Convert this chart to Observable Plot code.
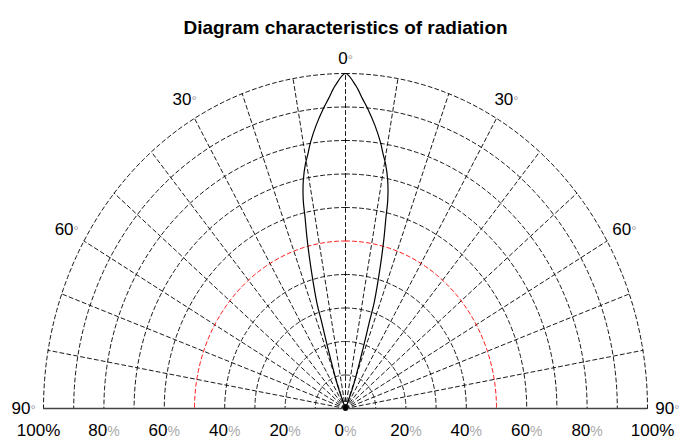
<!DOCTYPE html>
<html><head><meta charset="utf-8">
<script src="https://cdn.jsdelivr.net/npm/d3@7"></script>
<script src="https://cdn.jsdelivr.net/npm/@observablehq/plot@0.6"></script>
<style>body{margin:0;background:#fff;font-family:"Liberation Sans",Arial,sans-serif}</style>
</head><body><div id="chart"></div>
<script>
const title = "Diagram characteristics of radiation";
// radiation pattern: angle (deg) -> relative intensity (%)
const angles =    [0,   2.0,  3.5,  4.7,  6.6,  8.3,  9.3,  10.3, 11.6, 12.7, 13.2, 14.1, 15.3, 16.7, 17.0, 18.2, 21,  22];
const intensity = [100, 96.5, 92.6, 89.8, 85.0, 80.3, 77.0, 74.2, 69.5, 63.6, 58.7, 52.2, 43.2, 33.1, 27.4, 17.2, 6.9, 0];
// grid
const ringValues = [10, 20, 30, 40, 50, 60, 70, 80, 90, 100];
const spokeAngles = [-80, -70, -60, -50, -40, -30, -20, -10, 0, 10, 20, 30, 40, 50, 60, 70, 80];
const angleTicks = [-90, -60, -30, 0, 30, 60, 90];
const angleLabels = ["90°", "60°", "30°", "0°", "30°", "60°", "90°"];
const pctTicks = [-100, -80, -60, -40, -20, 0, 20, 40, 60, 80, 100];
const pctLabels = ["100%", "80%", "60%", "40%", "20%", "0%", "20%", "40%", "60%", "80%", "100%"];

const rad = d => d * Math.PI / 180;
const toXY = (a, r) => ({x: r * Math.sin(rad(a)), y: r * Math.cos(rad(a))});

// curve (symmetric lobe)
const curve = [];
for (let i = angles.length - 1; i > 0; i--) curve.push(toXY(-angles[i], intensity[i]));
for (let i = 0; i < angles.length; i++) curve.push(toXY(angles[i], intensity[i]));

// rings: two halves starting at the top so dashes begin on the 0° axis
const rings = [];
for (const r of ringValues) {
  for (const side of [-1, 1]) {
    for (let a = 0; a <= 90; a += 1) rings.push({...toXY(side * a, r), key: r + "_" + side, r});
  }
}
const spokes = [];
for (const a of spokeAngles) {
  spokes.push({...toXY(a, 0), a});
  spokes.push({...toXY(a, 100), a});
}
const angLab = angleTicks.map((a, i) => ({...toXY(a, a === 0 ? 104.6 : 106.6), text: angleLabels[i]}));
const pctLab = pctTicks.map((v, i) => ({x: v, y: 0, text: pctLabels[i]}));

const dash = "4,3";
const plot = Plot.plot({
  width: 685, height: 439,
  marginLeft: 43, marginRight: 38, marginTop: 73, marginBottom: 31,
  x: {domain: [-100, 100], axis: null},
  y: {domain: [0, 100], axis: null},
  style: {fontFamily: '"Liberation Sans", Arial, sans-serif', background: "#fff", overflow: "visible"},
  marks: [
    Plot.line(rings.filter(d => d.r !== 50), {x: "x", y: "y", z: "key", stroke: "#000", strokeWidth: 0.9, strokeDasharray: dash}),
    Plot.line(spokes, {x: "x", y: "y", z: "a", stroke: "#000", strokeWidth: 0.9, strokeDasharray: dash}),
    Plot.line(rings.filter(d => d.r === 50), {x: "x", y: "y", z: "key", stroke: "#ff0000", strokeWidth: 0.9, strokeDasharray: dash}),
    Plot.ruleY([0], {x1: -100, x2: 100, stroke: "#444", strokeWidth: 1.3}),
    Plot.line(curve, {x: "x", y: "y", stroke: "#000", strokeWidth: 1.2, curve: "catmull-rom"}),
    Plot.dot([{x: 0, y: 0}], {x: "x", y: "y", r: 2.5, fill: "#000"}),
    Plot.text(angLab, {x: "x", y: "y", text: "text", fontSize: 17, fill: "#000"}),
    Plot.text(pctLab.filter(d => Math.abs(d.x) < 100), {x: "x", y: "y", text: "text", dy: 22, fontSize: 17, fill: "#000"}),
    Plot.text(pctLab.filter(d => d.x === -100), {x: "x", y: "y", text: "text", dy: 22, dx: -5, fontSize: 17, fill: "#000"}),
    Plot.text(pctLab.filter(d => d.x === 100), {x: "x", y: "y", text: "text", dy: 22, dx: 5, fontSize: 17, fill: "#000"}),
    Plot.text([title], {frameAnchor: "top", dy: -53, fontSize: 19, fontWeight: "bold", fill: "#000"})
  ]
});
// style the unit symbols (light grey)
plot.querySelectorAll("text").forEach(t => {
  const s = t.textContent;
  if (s.endsWith("°")) {
    t.textContent = s.slice(0, -1);
    const ts = document.createElementNS("http://www.w3.org/2000/svg", "tspan");
    ts.textContent = "°"; ts.setAttribute("fill", "#999"); ts.setAttribute("font-size", "13");
    t.appendChild(ts);
  } else if (s.endsWith("%") && s !== "100%") {
    t.textContent = s.slice(0, -1);
    const ts = document.createElementNS("http://www.w3.org/2000/svg", "tspan");
    ts.textContent = "%"; ts.setAttribute("fill", "#aaa"); ts.setAttribute("font-size", "14");
    t.appendChild(ts);
  }
});
document.getElementById("chart").appendChild(plot);
</script></body></html>
